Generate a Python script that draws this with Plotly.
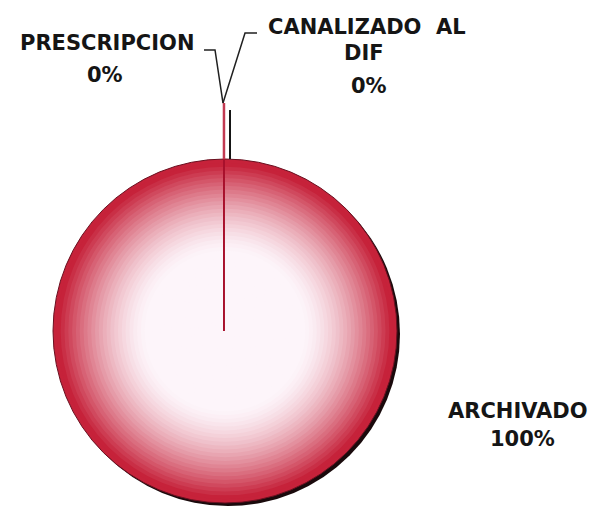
import plotly.graph_objects as go

# data
labels = ["PRESCRIPCION", "CANALIZADO  AL\nDIF", "ARCHIVADO"]
values = [0, 0, 100]

W, H = 605, 510
CX, CY, R = 225, 331, 172          # pie centre / radius in px
RED = (198, 34, 58)
WHITE = (253, 245, 250)
FONT = dict(family="DejaVu Sans", size=21, color="#151515")


def px(x, y):
    # pixel position -> paper coordinates
    return x / W, 1 - y / H


def dom(cx, cy, r):
    return dict(x=[(cx - r) / W, (cx + r) / W],
                y=[1 - (cy + r) / H, 1 - (cy - r) / H])


def shade(r):
    t = min(max((r - 80) / (168 - 80), 0), 1)
    t = t ** 1.5
    c = [round(w + (rd - w) * t) for w, rd in zip(WHITE, RED)]
    return "rgb(%d,%d,%d)" % tuple(c)


def pie(domain, color, line_color=None, line_width=0):
    return go.Pie(
        labels=labels, values=values, domain=domain, sort=False,
        direction="clockwise", rotation=0, textinfo="none",
        hoverinfo="skip", showlegend=False,
        marker=dict(colors=[color] * len(values),
                    line=dict(color=line_color or color, width=line_width)),
    )


fig = go.Figure()

# drop shadow
fig.add_trace(pie(dom(CX + 3, CY + 3, R), "#1a0a0c"))

# gradient built from stacked pies, outside in
n_layers = 45
for i in range(n_layers):
    r = R * (1 - i / n_layers)
    if i == 0:
        fig.add_trace(pie(dom(CX, CY, r), shade(r), "#6a1020", 1))
    else:
        fig.add_trace(pie(dom(CX, CY, r), shade(r)))

total = sum(values)
pct = ["%d%%" % round(v / total * 100) for v in values]

# leader lines and slice edge
lines = [
    ([(204, 50), (215, 50), (223, 103)], "#202020", 1.5),
    ([(257, 33), (245, 33), (223, 103)], "#202020", 1.5),
    ([(224, 103), (224, CY - R)], "#c23a52", 2.5),
    ([(230, 110), (230, CY - R)], "#151515", 2),
    ([(224, CY - R), (224, CY)], "#a8102c", 2),
]
shapes = []
for pts, col, w in lines:
    path = "M " + " L ".join("%.4f,%.4f" % px(x, y) for x, y in pts)
    shapes.append(dict(type="path", path=path, xref="paper", yref="paper",
                       line=dict(color=col, width=w)))

# text line centres (px) for each label, then its percentage
name_pos = [[(107, 43)], [(367, 27), (364, 53)], [(518, 411)]]
pct_pos = [(105, 75), (369, 86), (522, 439)]


def note(text, x, y):
    x, y = px(x, y)
    return dict(text="<b>%s</b>" % text, x=x, y=y, xref="paper",
                yref="paper", showarrow=False, font=FONT,
                xanchor="center", yanchor="middle")


annotations = []
for lab, p, npos, (qx, qy) in zip(labels, pct, name_pos, pct_pos):
    for part, (nx, ny) in zip(lab.split("\n"), npos):
        annotations.append(note(part.replace("  ", "&nbsp; "), nx, ny))
    annotations.append(note(p, qx, qy))

fig.update_layout(
    width=W, height=H,
    margin=dict(l=0, r=0, t=0, b=0),
    paper_bgcolor="white",
    plot_bgcolor="white",
    shapes=shapes,
    annotations=annotations,
)

fig.write_html("out.html", config={"displayModeBar": False},
               post_script="document.body.style.margin='0';")
